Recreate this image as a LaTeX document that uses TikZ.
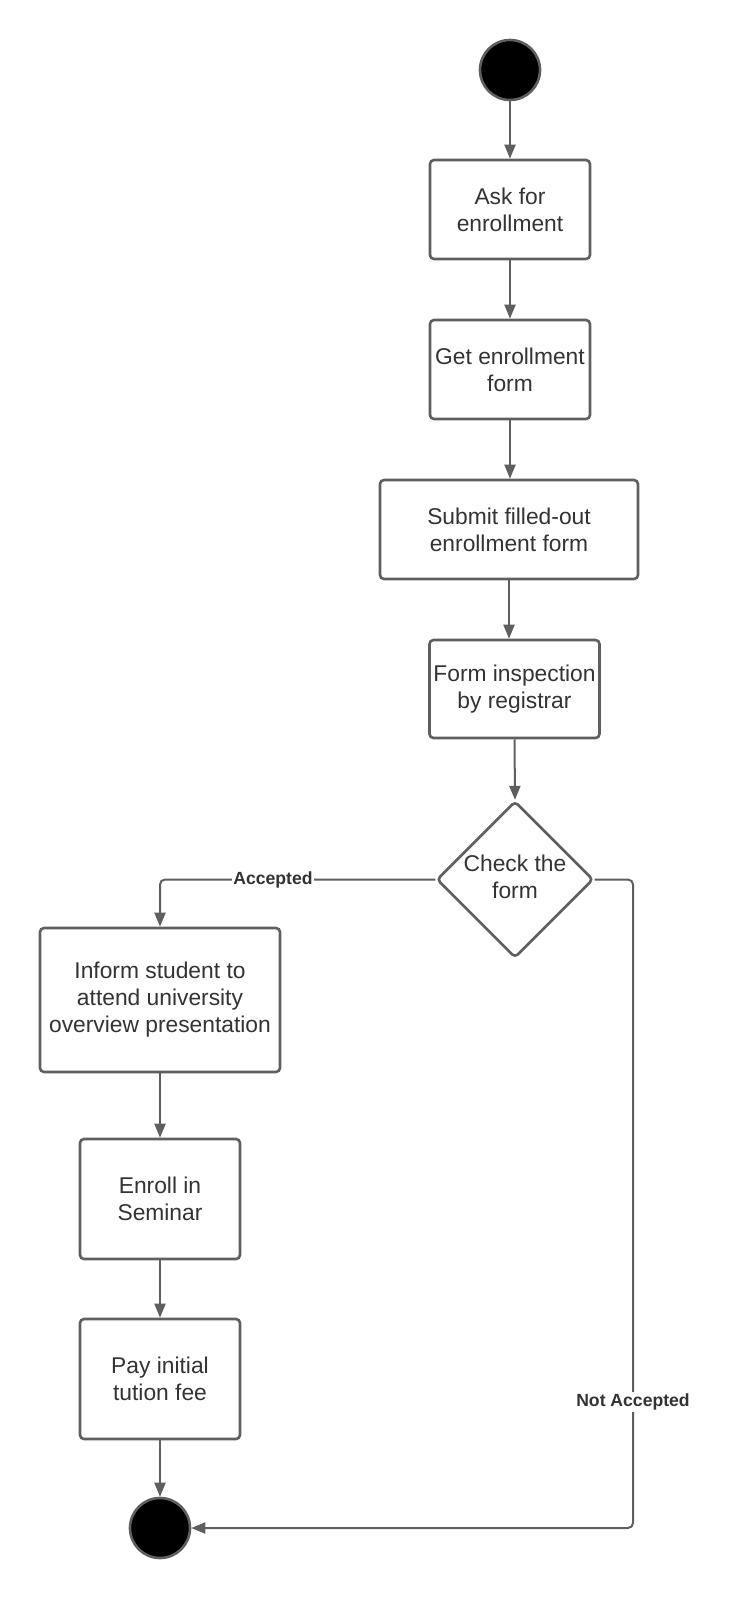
\documentclass[tikz,border=0pt]{standalone}
\usepackage{fontspec}
\setmainfont{Liberation Sans}
\usetikzlibrary{shapes.geometric,arrows.meta}
\definecolor{lc}{HTML}{5F5F5F}
\definecolor{tc}{HTML}{333333}
\tikzset{
  act/.style={draw=lc, line width=2.6pt, rounded corners=4pt, fill=white, inner sep=0pt,
    align=center, text=tc, font=\fontsize{22.8pt}{27pt}\selectfont},
  dec/.style={diamond, draw=lc, line width=2.6pt, rounded corners=4pt, fill=white, inner sep=0pt,
    align=center, text=tc, font=\fontsize{22.8pt}{27pt}\selectfont,
    minimum width=156pt, minimum height=155pt},
  dot/.style={circle, draw=lc, line width=2.6pt, fill=black, minimum size=60pt, inner sep=0pt},
  conn/.style={draw=lc, line width=2pt, rounded corners=5pt, -{Triangle[length=14pt,width=11pt]}},
  lbl/.style={fill=white, inner sep=1.5pt, text=tc, font=\fontsize{17.6pt}{20pt}\selectfont\bfseries}
}
\begin{document}
\begin{tikzpicture}[x=1pt,y=-1pt]
\useasboundingbox (0,0) rectangle (731,1600);
\fill[white] (0,0) rectangle (731,1600);

\node[dot] (start) at (510,70) {};
\node[act, minimum width=160pt, minimum height=99pt] (b1) at (510,209.5) {Ask for\\enrollment};
\node[act, minimum width=160pt, minimum height=99pt] (b2) at (510,369.5) {Get enrollment\\form};
\node[act, minimum width=258pt, minimum height=99pt] (b3) at (509,529.5) {Submit filled-out\\enrollment form};
\node[act, minimum width=170pt, minimum height=98pt] (b4) at (514.5,689) {Form inspection\\by registrar};
\node[dec] (d) at (515,879.5) {\raisebox{3pt}{\begin{tabular}{@{}c@{}}Check the\\form\end{tabular}}};
\node[act, minimum width=240pt, minimum height=144pt] (b5) at (160,1000) {Inform student to\\attend university\\overview presentation};
\node[act, minimum width=160pt, minimum height=120pt] (b6) at (160,1199) {Enroll in\\Seminar};
\node[act, minimum width=160pt, minimum height=120pt] (b7) at (160,1379) {Pay initial\\tution fee};
\node[dot] (end) at (160,1528) {};

\draw[conn] (start) -- (b1);
\draw[conn] (b1) -- (b2);
\draw[conn] (b2.south) -- (b2.south |- b3.north);
\draw[conn] (b3.south) -- (b3.south |- b4.north);
\draw[conn] (b4.south) -- (d.north);
\draw[conn] (d.west) -| (b5.north);
\node[lbl] (acc) at (273,879.5) {Accepted};
\coordinate (nr) at (633,879.5);
\draw[conn] (d.east) -- (nr) |- (end.east);
\node[lbl] (nacc) at (633,1402) {Not Accepted};
\draw[conn] (b5) -- (b6);
\draw[conn] (b6) -- (b7);
\draw[conn] (b7) -- (end);
\end{tikzpicture}
\end{document}
